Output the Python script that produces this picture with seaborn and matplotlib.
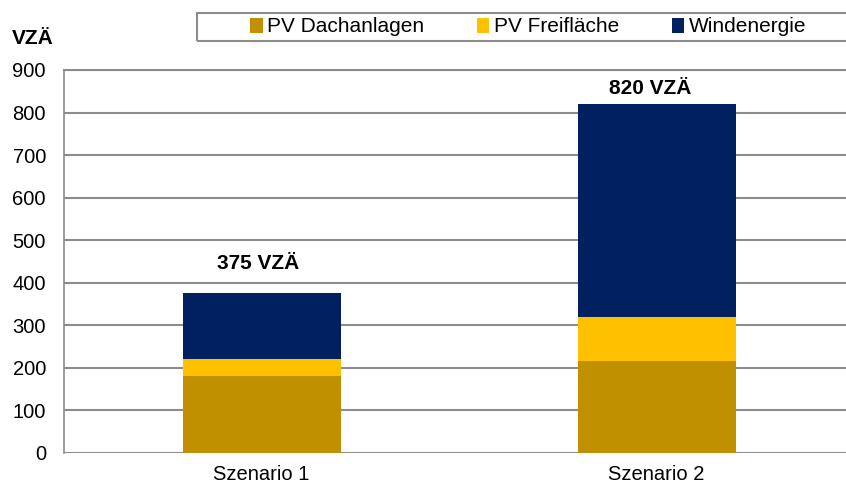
import matplotlib
matplotlib.use("Agg")
import matplotlib.pyplot as plt
import seaborn as sns
import pandas as pd
import numpy as np
from matplotlib.patches import Patch, Rectangle

categories = ["Szenario 1", "Szenario 2"]
pv_dach = [182, 216]
pv_frei = [40, 103]
wind = [153, 501]
totals_labels = ["375 VZÄ", "820 VZÄ"]
series_names = ["PV Dachanlagen", "PV Freifläche", "Windenergie"]
colors = ["#C09000", "#FFC000", "#002060"]

sns.set_theme(style="white")
plt.rcParams["font.family"] = ["Liberation Sans", "DejaVu Sans"]
plt.rcParams["text.color"] = "black"

W, H = 846, 487
df = pd.DataFrame({"cat": categories, "dach": pv_dach, "frei": pv_frei, "wind": wind})
df["c1"] = df["dach"]
df["c2"] = df["dach"] + df["frei"]
df["c3"] = df["c2"] + df["wind"]

fig = plt.figure(figsize=(W / 100, H / 100), dpi=100)
ax = fig.add_axes([64 / W, (H - 453) / H, (854 - 64) / W, (453 - 70) / H])

for col, color in zip(["c3", "c2", "c1"], colors[::-1]):
    sns.barplot(data=df, x="cat", y=col, color=color, width=0.4, ax=ax,
                saturation=1, order=categories, linewidth=0)

ax.set_ylim(0, 900)
ax.set_xlim(-0.5, 1.5)
ax.set_yticks(np.arange(0, 901, 100))
ax.yaxis.grid(True, color="#8c8c8c", linewidth=1.5)
ax.set_axisbelow(True)
for s in ["right", "bottom"]:
    ax.spines[s].set_visible(False)
ax.spines["left"].set_color("#8c8c8c")
ax.spines["left"].set_linewidth(1.2)
ax.spines["top"].set_color("#8c8c8c")
ax.spines["top"].set_linewidth(1.5)
ax.set_xlabel("")
ax.set_ylabel("")
ax.tick_params(axis="both", labelsize=14.5, labelcolor="black", length=0)
ax.tick_params(axis="x", pad=9)
ax.tick_params(axis="y", pad=13)

label_offsets = [(-3, 30), (-6, 16)]
for i, (lab, tot) in enumerate(zip(totals_labels, df["c3"])):
    dx, dy = label_offsets[i]
    ax.annotate(lab, xy=(i, tot), xytext=(dx * 0.72, dy * 0.72), textcoords="offset points",
                ha="center", va="center", fontsize=15, fontweight="bold", color="black")

fig.text(12 / W, 1 - 38 / H, "VZÄ", fontsize=15, fontweight="bold", va="center", ha="left",
         color="black")

# legend frame (extends past the right edge like the original)
fig.add_artist(Rectangle((197 / W, 1 - 41 / H), (880 - 197) / W, 28 / H,
                         transform=fig.transFigure, fill=False, edgecolor="#8c8c8c",
                         linewidth=1.5))
handles = [Patch(facecolor=c, edgecolor="none", label=n) for c, n in zip(colors, series_names)]
leg = fig.legend(handles=handles, loc="center left", bbox_to_anchor=(250 / W, 1 - 27 / H),
                 ncol=3, frameon=False, fontsize=15, handlelength=0.6, handleheight=0.7,
                 handletextpad=0.2, columnspacing=2.55, borderpad=0, borderaxespad=0)
for t in leg.get_texts():
    t.set_color("black")

fig.savefig("out.png", dpi=100)
